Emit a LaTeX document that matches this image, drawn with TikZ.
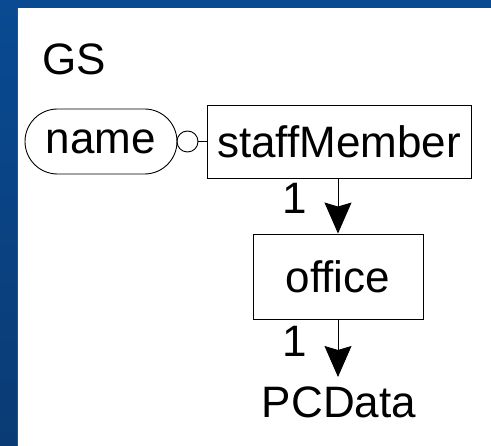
\documentclass[tikz,border=0pt]{standalone}
\usepackage{fontspec}
\setmainfont{Liberation Sans}
\usetikzlibrary{arrows.meta,shapes.misc}
\definecolor{bgtop}{HTML}{094A92}
\definecolor{bgbot}{HTML}{0A3B74}
\tikzset{
  every node/.style={font=\fontsize{44}{44}\selectfont, inner sep=0pt},
  elembox/.style={draw, line width=0.9pt, fill=white},
  attrbox/.style={draw, line width=0.9pt, rounded rectangle},
  conn/.style={line width=0.9pt},
  arr/.style={conn, -{Stealth[length=31pt,width=27pt,inset=4pt]}},
}
\begin{document}
\begin{tikzpicture}[x=1pt,y=-1pt]
\useasboundingbox (0,0) rectangle (491,446);
\shade[top color=bgtop, bottom color=bgbot] (0,0) rectangle (491,446);
\fill[black!70] (17,8) rectangle (19,446);
\fill[white] (18,8) rectangle (491,446);
\node[anchor=base west] (gs) at (42,75) {GS};
\node[elembox, minimum width=264pt, minimum height=73pt] (staff) at (339,141.5) {staffMember};
\node[attrbox, minimum width=152pt, minimum height=65pt] (name) at (101,141.5) {name};
\node[draw, circle, line width=0.9pt, minimum size=21pt] (opt) at (187.5,141.5) {};
\draw[conn] (opt) -- (staff);
\node[elembox, minimum width=170pt, minimum height=85pt] (office) at (338,276.5) {office};
\node[anchor=base] (pcd) at (339,418) {PCData};
\draw[arr] (staff.south -| office.north) -- (office.north);
\draw[arr] (office.south) -- (338,377) coordinate (pcdtop);
\node[anchor=base] (one1) at (294.5,214) {1};
\node[anchor=base] (one2) at (294.5,357) {1};
\end{tikzpicture}
\end{document}
